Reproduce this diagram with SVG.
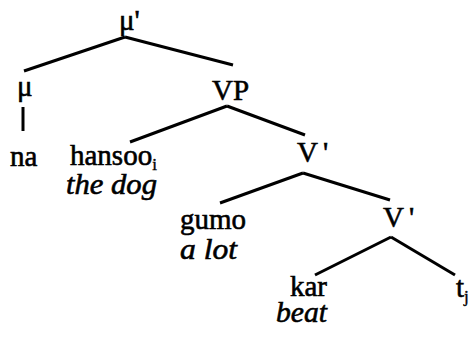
<svg xmlns="http://www.w3.org/2000/svg" width="472" height="342" viewBox="0 0 472 342">
<style>
text{font-family:'Liberation Serif','Times New Roman',serif;font-size:29px;fill:#000;stroke:#000;stroke-width:0.6}
.it{font-style:italic;font-size:30px}
.sub{font-size:17px;stroke-width:0.4}
line{stroke:#000;stroke-width:3;stroke-linecap:butt}
</style>
<rect width="472" height="342" fill="#fff"/>
<g id="connectors">
<line x1="125" y1="37" x2="24" y2="71"/>
<line x1="125" y1="37" x2="233" y2="65"/>
<line x1="23" y1="107" x2="23" y2="131"/>
<line x1="227" y1="106" x2="130" y2="142"/>
<line x1="227" y1="106" x2="305" y2="135"/>
<line x1="303" y1="173" x2="220" y2="203"/>
<line x1="303" y1="173" x2="390" y2="200"/>
<line x1="391" y1="237" x2="315" y2="275"/>
<line x1="391" y1="237" x2="455" y2="275"/>
</g>
<g id="mu-bar"><text x="119" y="30">μ'</text></g>
<g id="mu"><text x="17" y="96">μ</text></g>
<g id="na"><text x="10" y="166">na</text></g>
<g id="vp"><text x="212" y="100">VP</text></g>
<g id="hansoo"><text x="70" y="165">hansoo<tspan class="sub" dy="5">i</tspan></text><text class="it" x="66" y="194" textLength="91" lengthAdjust="spacingAndGlyphs">the dog</text></g>
<g id="vbar1"><text x="297" y="162">V<tspan dx="5">'</tspan></text></g>
<g id="gumo"><text x="180" y="229">gumo</text><text class="it" x="180" y="259" textLength="57" lengthAdjust="spacingAndGlyphs">a lot</text></g>
<g id="vbar2"><text x="383" y="227">V<tspan dx="5">'</tspan></text></g>
<g id="kar"><text x="290" y="296">kar</text><text class="it" x="276" y="322" textLength="51" lengthAdjust="spacingAndGlyphs">beat</text></g>
<g id="trace"><text x="456" y="297">t<tspan class="sub" dy="5">j</tspan></text></g>
</svg>
